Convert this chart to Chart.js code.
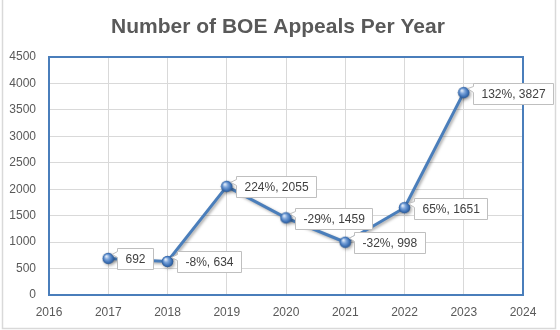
<!DOCTYPE html>
<html>
<head>
<meta charset="utf-8">
<script src="https://cdn.jsdelivr.net/npm/chart.js@4/dist/chart.umd.min.js"></script>
<style>
  html, body { margin: 0; padding: 0; background: #fff; }
  #wrap { width: 560px; height: 330px; }
</style>
</head>
<body>
<div id="wrap"><canvas id="c" width="560" height="330"></canvas></div>
<script>
const titleText = "Number of BOE Appeals Per Year";
const years = [2017, 2018, 2019, 2020, 2021, 2022, 2023];
const appeals = [692, 634, 2055, 1459, 998, 1651, 3827];
const pointLabels = ["692", "-8%, 634", "224%, 2055", "-29%, 1459", "-32%, 998", "65%, 1651", "132%, 3827"];
const xMin = 2016, xMax = 2024;
const yMin = 0, yMax = 4500, yStep = 500;

// sphere marker
function makeSphere() {
  const s = 13, c = document.createElement('canvas');
  c.width = s; c.height = s;
  const g = c.getContext('2d');
  const r = 5.8, cx = s / 2, cy = s / 2;
  const grad = g.createRadialGradient(cx - 2, cy - 2.2, 0.5, cx, cy, r);
  grad.addColorStop(0, '#e3ecf8');
  grad.addColorStop(0.35, '#7ea6db');
  grad.addColorStop(0.75, '#3f73b8');
  grad.addColorStop(1, '#2a568f');
  g.beginPath(); g.arc(cx, cy, r, 0, Math.PI * 2);
  g.fillStyle = grad; g.fill();
  return c;
}

const frame = {
  id: 'frame',
  beforeDraw(chart) {
    const ctx = chart.ctx;
    ctx.save();
    ctx.fillStyle = '#ffffff';
    ctx.fillRect(0, 0, chart.width, chart.height);
    ctx.strokeStyle = '#d9d9d9';
    ctx.lineWidth = 1.5;
    ctx.strokeRect(2.5, -5, 553, 333.5);
    ctx.restore();
  },
  beforeDatasetsDraw(chart) {
    const a = chart.chartArea, ctx = chart.ctx;
    ctx.save();
    ctx.strokeStyle = '#4a7ebb';
    ctx.lineWidth = 2;
    ctx.strokeRect(a.left, a.top, a.right - a.left, a.bottom - a.top);
    ctx.restore();
  },
  beforeDatasetDraw(chart) {
    const ctx = chart.ctx;
    ctx.save();
    ctx.shadowColor = 'rgba(0,0,0,0.35)';
    ctx.shadowBlur = 3;
    ctx.shadowOffsetX = 1.5;
    ctx.shadowOffsetY = 1.5;
  },
  afterDatasetDraw(chart) {
    chart.ctx.restore();
  },
  afterDatasetsDraw(chart) {
    const ctx = chart.ctx;
    const meta = chart.getDatasetMeta(0);
    ctx.save();
    ctx.font = '12px "Liberation Sans", Arial, sans-serif';
    ctx.textBaseline = 'middle';
    ctx.textAlign = 'left';
    meta.data.forEach((pt, i) => {
      const txt = pointLabels[i];
      const tw = ctx.measureText(txt).width;
      const w = Math.round(tw + 16), h = 21;
      const bx = Math.round(pt.x + 9) + 0.5;
      const by = Math.round(pt.y - 10) + 0.5;
      ctx.beginPath();
      ctx.moveTo(bx, by);
      ctx.lineTo(bx + w, by);
      ctx.lineTo(bx + w, by + h);
      ctx.lineTo(bx, by + h);
      ctx.lineTo(bx, by + 9);
      ctx.lineTo(pt.x + 4, pt.y - 4);
      ctx.lineTo(bx, by + 3);
      ctx.closePath();
      ctx.fillStyle = '#ffffff';
      ctx.fill();
      ctx.strokeStyle = '#bfbfbf';
      ctx.lineWidth = 1;
      ctx.stroke();
      ctx.fillStyle = '#404040';
      ctx.fillText(txt, bx + 8, by + h / 2 + 0.5);
    });
    ctx.restore();
  }
};

new Chart(document.getElementById('c'), {
  type: 'line',
  data: {
    datasets: [{
      data: years.map((y, i) => ({ x: y, y: appeals[i] })),
      borderColor: '#4a7ebb',
      borderWidth: 3,
      tension: 0,
      pointStyle: makeSphere(),
      pointRadius: 6,
      fill: false
    }]
  },
  plugins: [frame],
  options: {
    responsive: false,
    animation: false,
    layout: { padding: { left: 0, right: 4, top: 0, bottom: 0 } },
    plugins: {
      legend: { display: false },
      tooltip: { enabled: false },
      title: {
        display: true,
        text: titleText,
        color: '#595959',
        font: { family: '"Liberation Sans", Arial, sans-serif', size: 21, weight: 'bold', lineHeight: 1.2 },
        padding: { top: 15, bottom: 16.8 }
      }
    },
    scales: {
      x: {
        type: 'linear',
        min: xMin, max: xMax,
        afterFit(s) { s.height = 35; },
        border: { display: false },
        grid: { color: '#d9d9d9', lineWidth: 1, drawTicks: false },
        ticks: {
          stepSize: 1,
          padding: 10,
          color: '#595959',
          font: { family: '"Liberation Sans", Arial, sans-serif', size: 12 },
          callback: v => String(v),
          maxRotation: 0
        }
      },
      y: {
        min: yMin, max: yMax,
        afterFit(s) { s.width = 49; },
        border: { display: false },
        grid: { color: '#d9d9d9', lineWidth: 1, drawTicks: false },
        ticks: {
          stepSize: yStep,
          padding: 13,
          color: '#595959',
          font: { family: '"Liberation Sans", Arial, sans-serif', size: 12 },
          callback: v => String(v)
        }
      },
      yRight: {
        position: 'right',
        afterFit(s) { s.width = 33; },
        border: { display: false },
        grid: { display: false },
        ticks: { display: false }
      }
    }
  }
});
</script>
</body>
</html>
